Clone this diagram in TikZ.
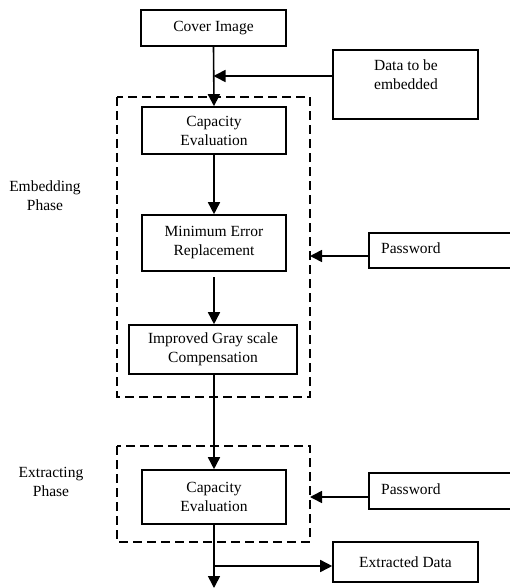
\documentclass[tikz,border=0pt]{standalone}
\usepackage{fontspec}
\setmainfont{Liberation Serif}
\usetikzlibrary{arrows.meta}
\begin{document}
\begin{tikzpicture}[x=1pt,y=-1pt,
  every node/.style={font=\fontsize{15.5}{19}\selectfont, inner sep=0pt},
  box/.style={draw, line width=1.6pt, align=center},
  phase/.style={draw, dashed, dash pattern=on 9pt off 5pt, line width=1.4pt},
  arr/.style={line width=1.6pt, -{Triangle[length=12pt,width=12pt]}},
  ln/.style={line width=1.6pt}]
\useasboundingbox (0,0) rectangle (510,588);
% dashed phase frames
\draw[phase] (117,97) rectangle (310,397);
\draw[phase] (117,446) rectangle (310,542);
% boxes
\node[box, minimum width=145pt, minimum height=36pt] (cover) at (213.5,28) {Cover Image};
\node[box, minimum width=145pt, minimum height=69pt] (data) at (405.5,84.5) {};
\node[align=center] (datatext) at (406,75) {Data to be\\embedded};
\node[box, minimum width=144pt, minimum height=47pt] (cap1) at (214,130.5) {Capacity\\Evaluation};
\node[box, minimum width=144pt, minimum height=56pt] (minerr) at (214,243) {Minimum Error\\Replacement};
\node[box, minimum width=168pt, minimum height=49pt] (impr) at (213,349.5) {Improved Gray scale\\Compensation};
\node[box, minimum width=144pt, minimum height=54pt] (cap2) at (214,497) {Capacity\\Evaluation};
\node[box, minimum width=145pt, minimum height=40pt] (extr) at (405.5,562) {Extracted Data};
\node[box, minimum width=150pt, minimum height=35pt] (pw1) at (444,250.5) {};
\node[anchor=west] (pw1text) at (381,248) {Password};
\node[box, minimum width=150pt, minimum height=36pt] (pw2) at (444,491) {};
\node[anchor=west] (pw2text) at (381,489) {Password};
% phase labels
\node[align=center] (emb) at (45,196) {Embedding\\Phase};
\node[align=center] (ext) at (51,482) {Extracting\\Phase};
% coordinates
\coordinate (j1) at (213.5,76);
\coordinate (m1) at (214,277);
\coordinate (p1) at (310,256);
\coordinate (p2) at (310,497);
\coordinate (b1) at (214,566);
\coordinate (out) at (214,588);
% connectors
\draw[arr] (cover.south) -- (cap1.north);
\draw[arr] (data.west |- j1) -- (j1);
\draw[arr] (cap1.south) -- (minerr.north);
\draw[arr] (m1) -- (impr.north -| m1);
\draw[arr] (impr.south -| cap2.north) -- (cap2.north);
\draw[arr] (pw1.west |- p1) -- (p1);
\draw[arr] (pw2.west |- p2) -- (p2);
\draw[arr] (cap2.south) -- (out);
\draw[arr] (b1) -- (extr.west |- b1);
\end{tikzpicture}
\end{document}
